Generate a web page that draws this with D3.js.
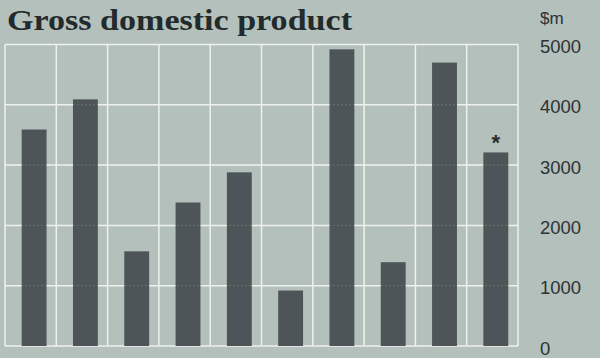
<!DOCTYPE html>
<html>
<head>
<meta charset="utf-8">
<script src="https://cdn.jsdelivr.net/npm/d3@7"></script>
<style>
  html, body { margin: 0; padding: 0; background: #b4c0bb; }
  svg { display: block; }
</style>
</head>
<body>
<svg id="chart" width="600" height="358"></svg>
<script>
const categories = ["1", "2", "3", "4", "5", "6", "7", "8", "9", "10"];
const values = [3590, 4090, 1570, 2380, 2880, 920, 4920, 1390, 4700, 3210];
const tickValues = [0, 1000, 2000, 3000, 4000, 5000];
const tickLabels = ["0", "1000", "2000", "3000", "4000", "5000"];
const title = "Gross domestic product";
const unitLabel = "$m";
const markedCategory = "10";

const W = 600, H = 358;
const svg = d3.select("#chart");

svg.append("rect").attr("width", W).attr("height", H).attr("fill", "#b4c0bb");

const x = d3.scaleBand().domain(categories).range([5, 518]).padding(0);
const y = d3.scaleLinear().domain([0, 5000]).range([346, 44.5]);

const gridColor = "#eef2ef";
const bounds = categories.map(c => x(c)).concat([x.range()[1]]);
svg.append("g").selectAll("line").data(bounds).join("line")
  .attr("x1", d => d).attr("x2", d => d)
  .attr("y1", y(5000)).attr("y2", y(0))
  .attr("stroke", gridColor).attr("stroke-width", 1.5);
svg.append("g").selectAll("line").data(tickValues).join("line")
  .attr("x1", x.range()[0]).attr("x2", x.range()[1])
  .attr("y1", d => y(d)).attr("y2", d => y(d))
  .attr("stroke", gridColor).attr("stroke-width", 1.5);

const bw = x.bandwidth();
svg.append("g").selectAll("rect").data(values).join("rect")
  .attr("x", (d, i) => x(categories[i]) + bw * 0.325)
  .attr("width", bw * 0.485)
  .attr("y", d => y(d))
  .attr("height", d => y(0) - y(d))
  .attr("fill", "#4d5558");

svg.append("g").selectAll("line").data(tickValues.filter(v => v > 0)).join("line")
  .attr("x1", x.range()[0]).attr("x2", x.range()[1])
  .attr("y1", d => y(d)).attr("y2", d => y(d))
  .attr("stroke", gridColor).attr("stroke-width", 1)
  .attr("stroke-dasharray", "2,2").attr("opacity", 0.18);

const axis = d3.axisRight(y).tickValues(tickValues)
  .tickFormat((d, i) => tickLabels[i]).tickSize(0).tickPadding(22);
const ag = svg.append("g").attr("transform", `translate(${x.range()[1]},0)`).call(axis);
ag.select(".domain").remove();
ag.selectAll("text")
  .attr("dy", "0.44em")
  .attr("fill", "#2c3334")
  .style("font-family", "'Liberation Sans', Arial, sans-serif")
  .style("font-size", "18.5px");

svg.append("text").attr("x", 540).attr("y", 24)
  .attr("fill", "#2c3334")
  .style("font-family", "'Liberation Sans', Arial, sans-serif")
  .style("font-size", "17px")
  .text(unitLabel);

svg.append("text").attr("x", 7).attr("y", 30)
  .attr("fill", "#222a2b")
  .attr("textLength", 345)
  .attr("lengthAdjust", "spacingAndGlyphs")
  .style("font-family", "'Liberation Serif', 'Times New Roman', serif")
  .style("font-weight", "bold")
  .style("font-size", "30px")
  .text(title);

const mi = categories.indexOf(markedCategory);
svg.append("text")
  .attr("x", x(markedCategory) + bw * 0.325 + bw * 0.485 / 2)
  .attr("y", y(values[mi]) - 2)
  .attr("text-anchor", "middle")
  .attr("fill", "#262d2e")
  .style("font-family", "'Liberation Sans', Arial, sans-serif")
  .style("font-size", "22px")
  .style("font-weight", "bold")
  .text("*");
</script>
</body>
</html>
